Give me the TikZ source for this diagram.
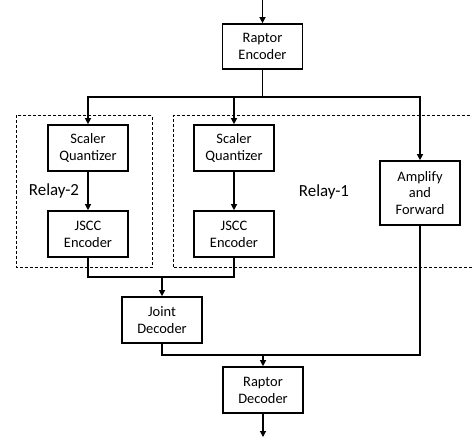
\documentclass[tikz,border=0pt]{standalone}
\usepackage{fontspec}
\setmainfont{Carlito}
\usetikzlibrary{arrows.meta}
\begin{document}
\begin{tikzpicture}[x=1bp,y=-1bp,
 blk/.style={draw, line width=1.6bp, minimum width=80bp, align=center, inner sep=0pt, font=\fontsize{14.5}{17}\selectfont},
 conn/.style={line width=1.2bp},
 arr/.style={conn,-{Triangle[width=6bp,length=6bp]}},
 relay/.style={line width=0.9bp, dash pattern=on 3bp off 2bp},
 lbl/.style={font=\fontsize{17}{20}\selectfont}]
\useasboundingbox (0,0) rectangle (472,441);
\node[blk, minimum height=45bp] (re) at (262.5,46.5) {Raptor\\Encoder};
\node[blk, minimum height=46bp] (sq1) at (88,148) {Scaler\\Quantizer};
\node[blk, minimum height=46bp] (sq2) at (234,148) {Scaler\\Quantizer};
\node[blk, minimum height=46bp] (je1) at (88,234) {JSCC\\Encoder};
\node[blk, minimum height=46bp] (je2) at (234,234) {JSCC\\Encoder};
\node[blk, minimum height=64bp] (af) at (420,193) {Amplify\\and\\Forward};
\node[blk, minimum height=46bp] (jd) at (162,320) {Joint\\Decoder};
\node[blk, minimum height=46bp] (rd) at (263,390) {Raptor\\Decoder};
\node[lbl] (r2) at (54,191) {Relay-2};
\node[lbl] (r1) at (324,192) {Relay-1};
\draw[relay] (16.5,115.5) rectangle (152,267.5);
\draw[relay] (475,115.5) -- (173,115.5) -- (173,267.5) -- (475,267.5);
\coordinate (in) at (262.5,0);
\coordinate (j1) at (262.5,97);
\coordinate (j2) at (162,277);
\coordinate (j3) at (263,355);
\coordinate (out) at (263,437);
\draw[arr] (in) -- (re.north);
\draw[conn] (re.south) -- (j1);
\draw[arr] (j1) -| (sq1.north);
\draw[arr] (j1) -| (sq2.north);
\draw[arr] (j1) -| (af.north);
\draw[arr] (sq1.south) -- (je1.north);
\draw[arr] (sq2.south) -- (je2.north);
\draw[conn] (je1.south) |- (j2);
\draw[conn] (je2.south) |- (j2);
\draw[arr] (j2) -- (jd.north);
\draw[conn] (jd.south) |- (j3);
\draw[conn] (af.south) |- (j3);
\draw[arr] (j3) -- (rd.north);
\draw[arr] (rd.south) -- (out);
\end{tikzpicture}
\end{document}
